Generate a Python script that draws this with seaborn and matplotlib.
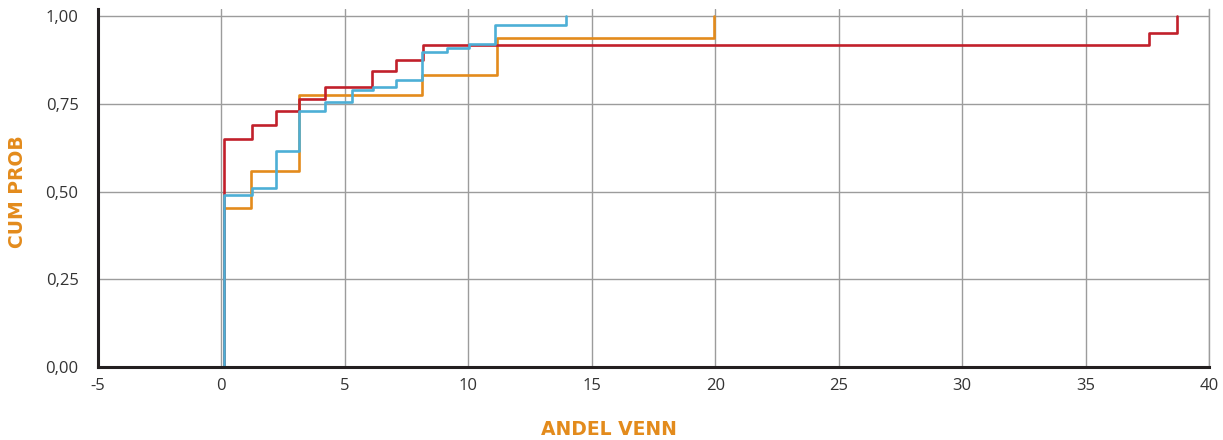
import matplotlib
matplotlib.use("Agg")
import matplotlib.pyplot as plt
import seaborn as sns
import pandas as pd

# Step points of each cumulative distribution: position of the jump and level after it
orange_x = [0.12, 0.12, 1.20, 3.16, 8.14, 11.17, 19.93]
orange_y = [0.00, 0.452, 0.558, 0.776, 0.833, 0.938, 1.00]

red_x = [0.12, 0.12, 1.23, 2.22, 3.13, 4.21, 6.08, 7.09, 8.17, 37.55, 38.70]
red_y = [0.00, 0.650, 0.691, 0.731, 0.764, 0.799, 0.843, 0.874, 0.918, 0.953, 1.00]

blue_x = [0.12, 0.12, 1.23, 2.21, 3.13, 4.21, 5.30, 6.15, 7.06, 8.12, 9.12, 10.04, 11.10, 13.97]
blue_y = [0.00, 0.489, 0.509, 0.616, 0.730, 0.756, 0.790, 0.799, 0.817, 0.897, 0.909, 0.922, 0.974, 1.00]

series_names = ["A", "B", "C"]
series_colors = ["#E38B1C", "#C1202B", "#4DAFD6"]

x_ticks = [-5, 0, 5, 10, 15, 20, 25, 30, 35, 40]
y_ticks = [0.0, 0.25, 0.5, 0.75, 1.0]
y_tick_labels = ["0,00", "0,25", "0,50", "0,75", "1,00"]

frames = []
for name, xs, ys in zip(series_names, [orange_x, red_x, blue_x], [orange_y, red_y, blue_y]):
    frames.append(pd.DataFrame({"x": xs, "y": ys, "serie": name}))
df = pd.concat(frames, ignore_index=True)

sns.set_theme(style="white")
plt.rcParams["font.family"] = ["Open Sans", "DejaVu Sans"]

fig = plt.figure(figsize=(12.23, 4.40), dpi=100)
ax = fig.add_axes([0.0801, 0.166, 0.9085, 0.813])

sns.lineplot(
    data=df, x="x", y="y", hue="serie", hue_order=series_names,
    palette=series_colors, estimator=None, sort=False,
    drawstyle="steps-post", linewidth=1.9, legend=False, ax=ax,
)

ax.set_xlim(-5, 40)
ax.set_ylim(0, 1.02)
ax.set_xticks(x_ticks)
ax.set_xticklabels([str(t) for t in x_ticks])
ax.set_yticks(y_ticks)
ax.set_yticklabels(y_tick_labels)

ax.grid(True, color="#9c9c9c", linewidth=1.0)
ax.set_axisbelow(True)

for side in ["left", "bottom"]:
    ax.spines[side].set_color("#231f20")
    ax.spines[side].set_linewidth(2.2)
ax.spines["right"].set_color("#9c9c9c")
ax.spines["right"].set_linewidth(1.0)
ax.spines["top"].set_visible(False)

ax.tick_params(axis="both", length=0, labelsize=12, colors="#333333")
ax.tick_params(axis="y", pad=14)
ax.tick_params(axis="x", pad=8)

label_style = dict(fontsize=13.5, fontweight="bold", color="#E38B1C",
                   family=["DejaVu Sans"])
ax.set_xlabel("ANDEL VENN", **label_style)
ax.set_ylabel("CUM PROB", **label_style)
ax.xaxis.set_label_coords(0.46, -0.148)
ax.yaxis.set_label_coords(-0.064, 0.49)

fig.savefig("out.png", dpi=100)
